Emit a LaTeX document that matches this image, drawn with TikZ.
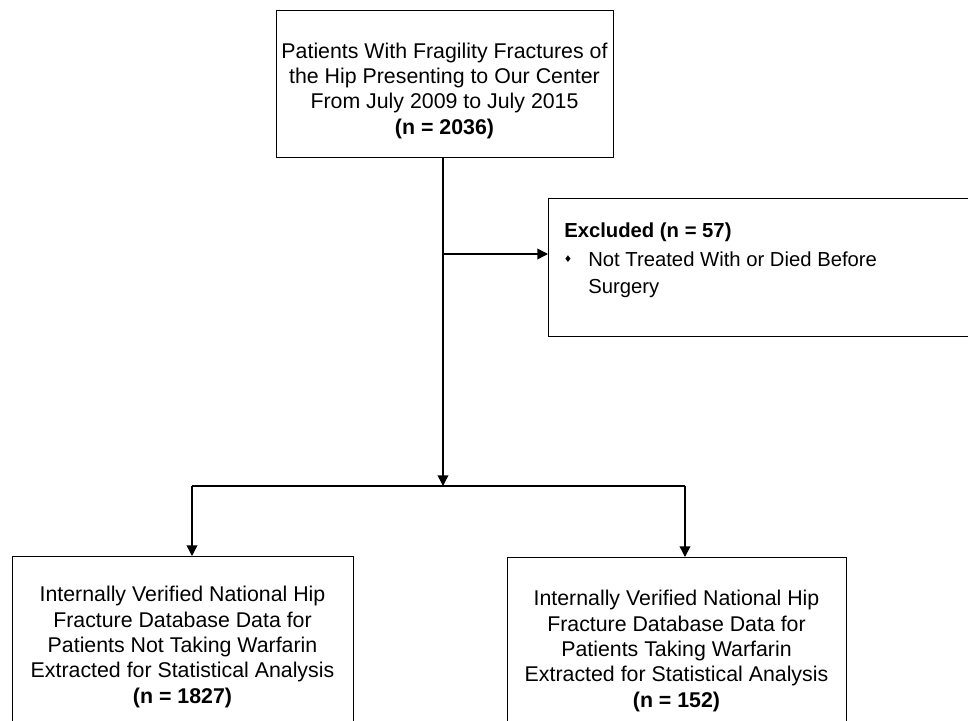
\documentclass[tikz,border=0pt]{standalone}
\usepackage{fontspec}
\setmainfont{Liberation Sans}
\newfontfamily\symfont{DejaVu Sans}
\usetikzlibrary{arrows.meta,calc}
\begin{document}
\begin{tikzpicture}[x=0.75pt,y=-0.75pt,
  box/.style={draw, line width=1.1pt, inner sep=0pt},
  txt/.style={font=\fontsize{16}{19}\selectfont, align=center, inner sep=0pt, anchor=north},
  ltxt/.style={font=\fontsize{15.2}{20.3}\selectfont, align=left, inner sep=0pt},
  ln/.style={line width=1.1pt},
  arr/.style={line width=1.1pt, -{Triangle[length=8pt,width=8pt]}}]
\useasboundingbox (0,0) rectangle (968,721);
\clip (0,0) rectangle (968,721);
% boxes
\node[box, anchor=north west, minimum width=252.75pt, minimum height=110.25pt] (top) at (276,10) {};
\node[box, anchor=north west, minimum width=335.25pt, minimum height=103.5pt] (excl) at (548,198) {};
\node[box, anchor=north west, minimum width=255.75pt, minimum height=138pt] (bl) at (12,556) {};
\node[box, anchor=north west, minimum width=254.25pt, minimum height=138pt] (br) at (507,557) {};
% texts
\node[txt] (toptext) at (444.5,42.5) {Patients With Fragility Fractures of\\the Hip Presenting to Our Center\\From July 2009 to July 2015\\\textbf{(n = 2036)}};
\node[ltxt, anchor=base west] (exh) at (564,237) {\textbf{Excluded (n = 57)}};
\node[inner sep=0pt, font=\symfont\fontsize{7}{8}\selectfont] (bul) at (568,259) {♦};
\node[ltxt, anchor=base west] (exb1) at (588,266) {Not Treated With or Died Before};
\node[ltxt, anchor=base west] (exb2) at (588,293) {Surgery};
\node[txt] (bltext) at (182.5,586) {Internally Verified National Hip\\Fracture Database Data for\\Patients Not Taking Warfarin\\Extracted for Statistical Analysis\\\textbf{(n = 1827)}};
\node[txt] (brtext) at (676.5,590) {Internally Verified National Hip\\Fracture Database Data for\\Patients Taking Warfarin\\Extracted for Statistical Analysis\\\textbf{(n = 152)}};
% connectors
\coordinate (j1) at (443,254);
\coordinate (split) at (443,486);
\coordinate (lsplit) at (192,486);
\coordinate (rsplit) at (685,486);
\draw[arr] (top.south -| split) -- (split);
\draw[arr] (j1) -- (j1 -| excl.west);
\draw[ln] (lsplit) -- (rsplit);
\draw[arr] (lsplit) -- (lsplit |- bl.north);
\draw[arr] (rsplit) -- (rsplit |- br.north);
\end{tikzpicture}
\end{document}
